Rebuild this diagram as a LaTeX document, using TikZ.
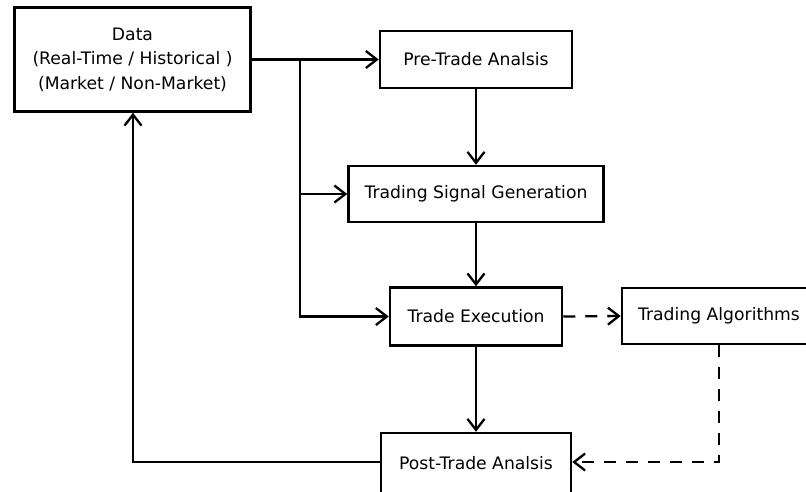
\documentclass[tikz,border=0pt]{standalone}
\usepackage{fontspec}
\setmainfont{DejaVu Sans}
\usetikzlibrary{arrows.meta}
\begin{document}
\begin{tikzpicture}[x=1pt,y=-1pt,
  box/.style={draw=black, line width=2.5pt, fill=white, inner sep=0pt,
    align=center, font=\fontsize{17.2}{24.5}\selectfont},
  flow/.style={line width=2.3pt, -{Straight Barb[length=11pt,width=17pt,line width=2.3pt]}},
  dflow/.style={flow, dash pattern=on 12pt off 10pt}]
\clip (0,0) rectangle (806,491);
\fill[white] (0,0) rectangle (806,491);

\node[box, minimum width=236pt, minimum height=104pt] (data) at (132.5,59.5)
  {Data\\(Real-Time / Historical )\\(Market / Non-Market)};
\node[box, minimum width=192pt, minimum height=57pt] (pre) at (476,59.5) {Pre-Trade Analsis};
\node[box, minimum width=255pt, minimum height=56pt] (sig) at (476,194) {Trading Signal Generation};
\node[box, minimum width=172pt, minimum height=58pt] (exec) at (476,316.5) {Trade Execution};
\node[box, minimum width=194pt, minimum height=56pt] (algo) at (719,316) {Trading Algorithms};
\node[box, minimum width=190pt, minimum height=60pt] (post) at (476,463) {Post-Trade Analsis};

\coordinate (split) at (300,59.5);
\coordinate (fb) at (133,462);
\coordinate (corner) at (719,462);

\draw[flow] (data.east |- pre.west) -- (pre.west);
\draw[flow] (split) |- (sig.west);
\draw[flow] (split) |- (exec.west);
\draw[flow] (pre.south) -- (sig.north);
\draw[flow] (sig.south) -- (exec.north);
\draw[flow] (exec.south) -- (post.north);
\draw[dflow] (exec.east) -- (algo.west);
\draw[dflow] (algo.south) -- (corner) -- (post.east |- corner);
\draw[flow] (post.west |- fb) -- (fb) -- (fb |- data.south);
\end{tikzpicture}
\end{document}
